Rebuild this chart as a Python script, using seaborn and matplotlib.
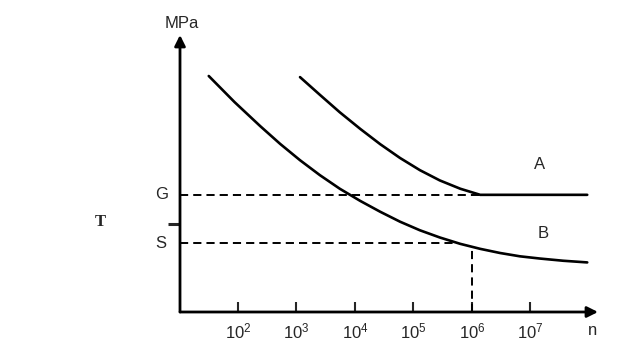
import numpy as np
import pandas as pd
import matplotlib
matplotlib.use("Agg")
import matplotlib.pyplot as plt
import seaborn as sns

# ---- data (log10 of cycles n, stress in arbitrary MPa units) ----
curve_a_logn = [3.06, 3.40, 3.74, 4.09, 4.43, 4.77, 5.11, 5.45, 5.80, 6.14, 7.97]
curve_a_mpa = [84.8, 78.4, 72.1, 66.1, 60.6, 55.6, 51.2, 47.5, 44.5, 42.3, 42.3]
curve_b_logn = [1.50, 1.94, 2.38, 2.72, 3.06, 3.40, 3.74, 4.09, 4.43, 4.77, 5.11, 5.45,
                5.80, 6.14, 6.48, 6.82, 7.16, 7.56, 7.97]
curve_b_mpa = [85.2, 75.8, 67.1, 60.7, 54.8, 49.4, 44.5, 40.1, 36.2, 32.6, 29.5, 26.9,
               24.6, 22.8, 21.3, 20.1, 19.3, 18.5, 17.9]
g_level = 42.3
s_level = 24.9
g_line_end_logn = 6.14
s_line_end_logn = 5.75
vline_logn = 6.0
vline_top = 22.7
y_tick_level = 31.8
x_tick_exps = [2, 3, 4, 5, 6, 7]
x_tick_labels = [f"$10^{{{e}}}$" for e in x_tick_exps]

sns.set_style("white")
plt.rcParams["font.family"] = ["Liberation Sans", "DejaVu Sans"]
plt.rcParams["mathtext.fontset"] = "custom"
plt.rcParams["mathtext.rm"] = "Liberation Sans"
plt.rcParams["mathtext.it"] = "Liberation Sans:italic"

fig = plt.figure(figsize=(6.41, 3.54), dpi=100)
ax = fig.add_axes([180 / 641, 1 - 312 / 354, 418 / 641, 277 / 354])

df_a = pd.DataFrame({"n": 10 ** np.array(curve_a_logn), "mpa": curve_a_mpa})
df_b = pd.DataFrame({"n": 10 ** np.array(curve_b_logn), "mpa": curve_b_mpa})
sns.lineplot(data=df_a, x="n", y="mpa", ax=ax, color="black", lw=1.9, sort=False)
sns.lineplot(data=df_b, x="n", y="mpa", ax=ax, color="black", lw=1.9, sort=False)

ax.set_xscale("log")
xmin = 10 ** 1.0085
xmax = 10 ** 8.154
ax.set_xlim(xmin, xmax)
ax.set_ylim(0, 100)

dash = (0, (4.2, 2.6))
ax.plot([xmin, 10 ** g_line_end_logn], [g_level, g_level], color="black", lw=1.4, ls=dash)
ax.plot([xmin, 10 ** s_line_end_logn], [s_level, s_level], color="black", lw=1.4, ls=dash)
ax.plot([10 ** vline_logn, 10 ** vline_logn], [0, vline_top], color="black", lw=1.4, ls=dash)

for s in ax.spines.values():
    s.set_visible(False)

# axes with arrows
ax.annotate("", xy=(1.0, 0), xytext=(0, 0), xycoords="axes fraction",
            arrowprops=dict(arrowstyle="-|>", color="black", lw=2, mutation_scale=16,
                            shrinkA=0, shrinkB=0), annotation_clip=False)
ax.annotate("", xy=(0, 1.0), xytext=(0, 0), xycoords="axes fraction",
            arrowprops=dict(arrowstyle="-|>", color="black", lw=2, mutation_scale=16,
                            shrinkA=0, shrinkB=0), annotation_clip=False)

ax.set_xticks([10.0 ** e for e in x_tick_exps])
ax.set_xticklabels(x_tick_labels)
ax.minorticks_off()
ax.tick_params(axis="x", direction="in", length=7, width=1.5, pad=7, labelsize=12,
               bottom=True)
ax.set_yticks([y_tick_level])
ax.set_yticklabels([""])
ax.tick_params(axis="y", direction="out", length=9, width=2.2, left=True)
ax.set_xlabel("")
ax.set_ylabel("")

ax.text(-0.043, g_level, "G", transform=ax.get_yaxis_transform(), ha="center", va="center", fontsize=12)
ax.text(-0.045, s_level, "S", transform=ax.get_yaxis_transform(), ha="center", va="center", fontsize=12)
ax.text(0.005, 1.043, "MPa", transform=ax.transAxes, ha="center", va="center", fontsize=12)
ax.text(0.986, -0.065, "n", transform=ax.transAxes, ha="center", va="center", fontsize=12)
ax.text(10 ** 7.16, 53.1, "A", ha="center", va="center", fontsize=12)
ax.text(10 ** 7.21, 28.5, "B", ha="center", va="center", fontsize=12)

fig.text(100 / 641, 1 - 222 / 354, "T", ha="center", va="center", fontsize=12,
         fontweight="bold", family=["Liberation Serif", "DejaVu Serif"])

fig.savefig("out.png", dpi=100)
